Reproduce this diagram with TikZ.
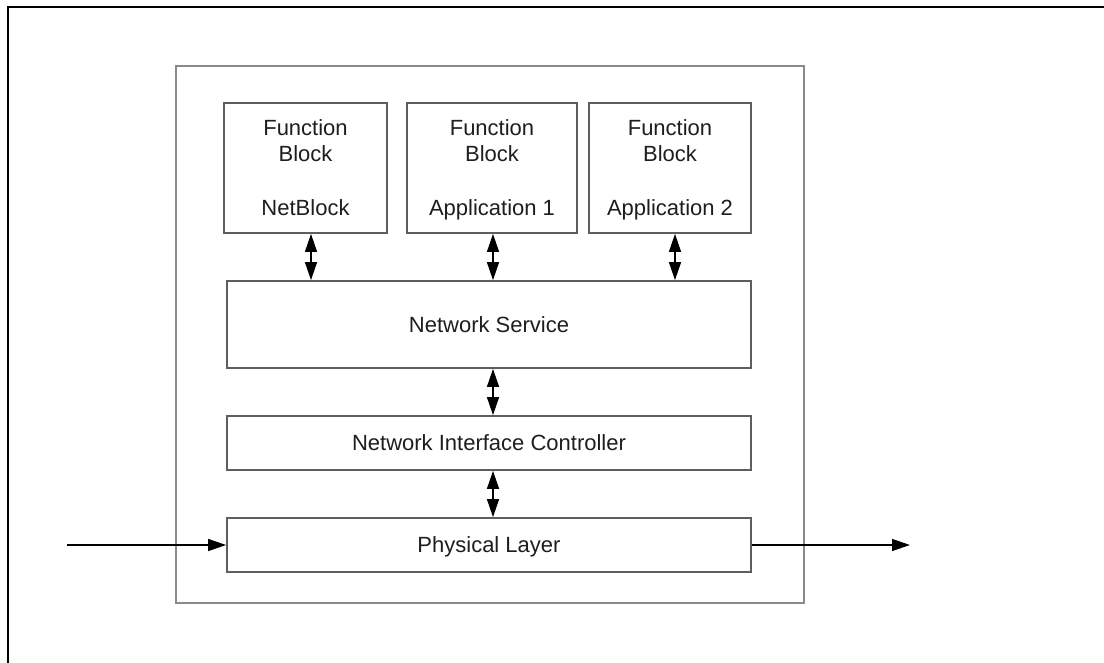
\documentclass[tikz,border=0pt]{standalone}
\usepackage{fontspec}
\setmainfont{Liberation Sans}
\usetikzlibrary{arrows.meta}
\definecolor{boxgray}{HTML}{5E5E5E}
\definecolor{framegray}{HTML}{8A8A8A}
\definecolor{txt}{HTML}{1E1E1E}
\newcommand{\fbtext}[1]{\vphantom{Ap}Function\\Block\\[26.7pt]#1\vphantom{Ap}}
\begin{document}
\begin{tikzpicture}[x=1pt,y=-1pt,
  block/.style={draw=boxgray, line width=1.8pt, rectangle, inner sep=0pt,
    align=center, text=txt, font=\fontsize{22}{26.7}\selectfont},
  layer/.style={block, minimum width=524pt, text height=15.8pt, text depth=0pt},
  fblock/.style={block, minimum height=130pt},
  link/.style={draw=black, line width=1.3pt,
    {Triangle[length=18pt,width=12pt]}-{Triangle[length=18pt,width=12pt]}},
  flow/.style={draw=black, line width=1.3pt, -{Triangle[length=18pt,width=12pt]}}
]
\useasboundingbox (0,0) rectangle (1104,662);
\clip (0,0) rectangle (1104,662);
\fill[white] (0,0) rectangle (1104,662);

% page frame (only its top and left edges fall inside the page)
\draw[line width=2.2pt, black] (8.3,700) -- (8.3,6.7) -- (1130,6.7);

% device enclosure
\draw[framegray, line width=2.4pt] (176,66) rectangle (804,603);

% function blocks
\node[fblock, minimum width=163pt] (fbnet)  at (305.5,168) {};
\node[fblock, minimum width=170pt] (fbapp1) at (492,168)   {};
\node[fblock, minimum width=162pt] (fbapp2) at (670,168)   {};
\node[block, draw=none] (fbnettext)  at (305.5,169.5) {\fbtext{NetBlock}};
\node[block, draw=none] (fbapp1text) at (492,169.5)   {\fbtext{Application 1}};
\node[block, draw=none] (fbapp2text) at (670,169.5)   {\fbtext{Application 2}};

% protocol layers
\node[layer, minimum height=87pt] (ns)  at (489,324.5) {Network Service};
\node[layer, minimum height=54pt] (nic) at (489,443)   {Network Interface Controller};
\node[layer, minimum height=54pt] (pl)  at (489,545)   {Physical Layer};

% bidirectional links
\draw[link] ([xshift=5.5pt]fbnet.south) -- ([xshift=5.5pt]fbnet.south |- ns.north);
\draw[link] ([xshift=1pt]fbapp1.south) -- ([xshift=1pt]fbapp1.south |- ns.north);
\draw[link] ([xshift=5pt]fbapp2.south) -- ([xshift=5pt]fbapp2.south |- ns.north);
\draw[link] ([xshift=4pt]ns.south) -- ([xshift=4pt]nic.north);
\draw[link] ([xshift=4pt]nic.south) -- ([xshift=4pt]pl.north);

% signal in and out
\coordinate (sigin)  at (67,545);
\coordinate (sigout) at (910,545);
\draw[flow] (sigin) -- (pl.west);
\draw[flow] (pl.east) -- (sigout);
\end{tikzpicture}
\end{document}
